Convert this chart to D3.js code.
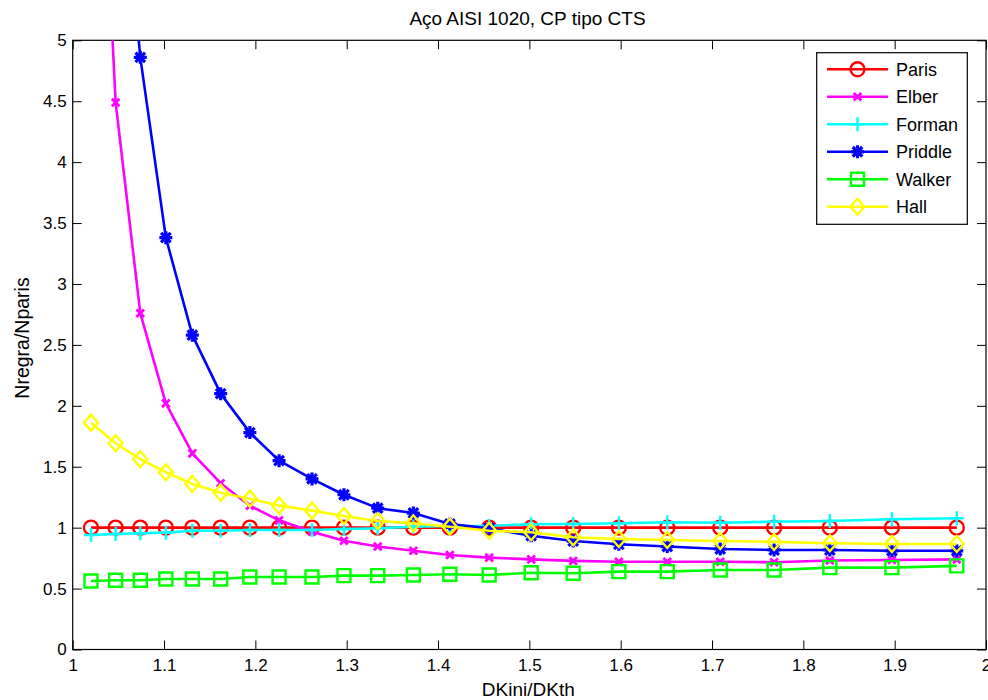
<!DOCTYPE html>
<html>
<head>
<meta charset="utf-8">
<script src="https://cdn.jsdelivr.net/npm/d3@7"></script>
<style>
  html, body { margin: 0; padding: 0; background: #fff; }
  svg { display: block; font-family: "Liberation Sans", Arial, sans-serif; }
</style>
</head>
<body>
<svg id="chart" width="988" height="700"></svg>
<script>
// Ratio of initial to threshold stress intensity range (x values shared by every rule)
const dkRatio = [1.020, 1.047, 1.074, 1.102, 1.131, 1.162, 1.194, 1.226, 1.262, 1.297, 1.334,
                 1.373, 1.413, 1.456, 1.502, 1.548, 1.598, 1.651, 1.709, 1.768, 1.829, 1.897, 1.968];

// Life predicted by each rule, normalised by the Paris prediction
const paris   = [1.00, 1.00, 1.00, 1.00, 1.00, 1.00, 1.00, 1.00, 1.00, 1.00, 1.00,
                 1.00, 1.00, 1.00, 1.00, 1.00, 1.00, 1.00, 1.00, 1.00, 1.00, 1.00, 1.00];
const elber   = [8.60, 4.49, 2.76, 2.02, 1.61, 1.365, 1.18, 1.06, 0.967, 0.893, 0.845,
                 0.81, 0.776, 0.754, 0.74, 0.727, 0.72, 0.72, 0.72, 0.716, 0.73, 0.735, 0.74];
const forman  = [0.94, 0.948, 0.954, 0.959, 0.975, 0.975, 0.981, 0.981, 0.981, 0.989, 0.995,
                 1.008, 1.014, 1.016, 1.028, 1.03, 1.036, 1.044, 1.04, 1.049, 1.055, 1.069, 1.077];
const priddle = [11.5, 7.10, 4.86, 3.38, 2.58, 2.10, 1.78, 1.55, 1.40, 1.27, 1.16,
                 1.12, 1.03, 0.995, 0.934, 0.89, 0.864, 0.845, 0.825, 0.817, 0.817, 0.81, 0.81];
const walker  = [0.562, 0.568, 0.568, 0.579, 0.579, 0.579, 0.595, 0.595, 0.595, 0.606, 0.606,
                 0.612, 0.617, 0.612, 0.63, 0.626, 0.639, 0.639, 0.653, 0.653, 0.672, 0.672, 0.686];
const hall    = [1.862, 1.693, 1.562, 1.455, 1.359, 1.287, 1.238, 1.181, 1.14, 1.096, 1.055,
                 1.036, 1.008, 0.975, 0.962, 0.921, 0.907, 0.899, 0.891, 0.883, 0.872, 0.866, 0.866];

const seriesNames  = ["Paris", "Elber", "Forman", "Priddle", "Walker", "Hall"];
const seriesValues = [paris, elber, forman, priddle, walker, hall];
const seriesColors = ["#ff0000", "#ff00ff", "#00ffff", "#0000ff", "#00ff00", "#ffff00"];
const seriesMarkers = ["circle", "x", "plus", "star", "square", "diamond"];

const xTicks = [1, 1.1, 1.2, 1.3, 1.4, 1.5, 1.6, 1.7, 1.8, 1.9, 2];
const yTicks = [0, 0.5, 1, 1.5, 2, 2.5, 3, 3.5, 4, 4.5, 5];

const titleText = "Aço AISI 1020, CP tipo CTS";
const xLabel = "DKini/DKth";
const yLabel = "Nregra/Nparis";

// Plot frame
const frameLeft = 72.7, frameRight = 986, frameTop = 40.3, frameBottom = 649.5;

const svg = d3.select("#chart");
svg.append("rect").attr("width", 988).attr("height", 700).attr("fill", "#fff");

const x = d3.scaleLinear().domain([1, 2]).range([frameLeft, frameRight]);
const y = d3.scaleLinear().domain([0, 5]).range([frameBottom, frameTop]);

const fmt = d3.format("~g");
const tickLen = 9;

function styleAxis(g) {
  g.select(".domain").remove();
  g.selectAll(".tick line").attr("stroke", "#000").attr("stroke-width", 1);
  g.selectAll("text").attr("font-size", 17).attr("fill", "#000")
    .attr("font-family", "'Liberation Sans', Arial, sans-serif");
}

svg.append("g").attr("transform", `translate(0,${frameBottom})`)
  .call(d3.axisBottom(x).tickValues(xTicks).tickFormat(fmt).tickSizeInner(-tickLen).tickSizeOuter(0).tickPadding(9))
  .call(styleAxis);
svg.append("g").attr("transform", `translate(0,${frameTop})`)
  .call(d3.axisTop(x).tickValues(xTicks).tickFormat("").tickSizeInner(-tickLen).tickSizeOuter(0))
  .call(styleAxis);
svg.append("g").attr("transform", `translate(${frameLeft},0)`)
  .call(d3.axisLeft(y).tickValues(yTicks).tickFormat(fmt).tickSizeInner(-tickLen).tickSizeOuter(0).tickPadding(6))
  .call(styleAxis);
svg.append("g").attr("transform", `translate(${frameRight},0)`)
  .call(d3.axisRight(y).tickValues(yTicks).tickFormat("").tickSizeInner(-tickLen).tickSizeOuter(0))
  .call(styleAxis);

// Box around the axes
svg.append("rect")
  .attr("x", frameLeft).attr("y", frameTop)
  .attr("width", frameRight - frameLeft).attr("height", frameBottom - frameTop)
  .attr("fill", "none").attr("stroke", "#000").attr("stroke-width", 1.2);

svg.append("clipPath").attr("id", "plot-clip")
  .append("rect").attr("x", frameLeft).attr("y", frameTop)
  .attr("width", frameRight - frameLeft).attr("height", frameBottom - frameTop);

// Marker outlines, centred on the origin
function markerPath(kind) {
  switch (kind) {
    case "circle":  return d3.symbol(d3.symbolCircle, Math.PI * 7 * 7)();
    case "x":       return "M-3.8,-3.8L3.8,3.8M-3.8,3.8L3.8,-3.8";
    case "plus":    return "M-7,0L7,0M0,-7L0,7";
    case "star":    return "M-6.5,0L6.5,0M0,-6.5L0,6.5M-4.8,-4.8L4.8,4.8M-4.8,4.8L4.8,-4.8";
    case "square":  return "M-6.5,-6.5H6.5V6.5H-6.5Z";
    case "diamond": return "M0,-8L7,0L0,8L-7,0Z";
  }
}
const markerWidth = { circle: 2.4, x: 2.8, plus: 2.4, star: 3.2, square: 2.4, diamond: 2.4 };

const line = d3.line().x(d => x(d[0])).y(d => y(d[1]));
const plot = svg.append("g").attr("clip-path", "url(#plot-clip)");

seriesNames.forEach((name, i) => {
  const pts = dkRatio.map((dk, j) => [dk, seriesValues[i][j]]);
  const g = plot.append("g").attr("class", "series");
  g.append("path").datum(pts).attr("d", line)
    .attr("fill", "none").attr("stroke", seriesColors[i])
    .attr("stroke-width", 2.6).attr("stroke-linejoin", "round");
  g.selectAll("path.marker").data(pts).join("path").attr("class", "marker")
    .attr("d", markerPath(seriesMarkers[i]))
    .attr("transform", d => `translate(${x(d[0])},${y(d[1])})`)
    .attr("fill", "none").attr("stroke", seriesColors[i])
    .attr("stroke-width", markerWidth[seriesMarkers[i]]);
});

// Legend
const legend = svg.append("g");
legend.append("rect").attr("x", 816.7).attr("y", 52.7).attr("width", 150.6).attr("height", 171.6)
  .attr("fill", "#fff").attr("stroke", "#000").attr("stroke-width", 1.2);
seriesNames.forEach((name, i) => {
  const ly = 69.3 + i * 27.5;
  legend.append("line").attr("x1", 827).attr("x2", 888).attr("y1", ly).attr("y2", ly)
    .attr("stroke", seriesColors[i]).attr("stroke-width", 2.6);
  legend.append("path").attr("d", markerPath(seriesMarkers[i]))
    .attr("transform", `translate(857.5,${ly})`)
    .attr("fill", "none").attr("stroke", seriesColors[i])
    .attr("stroke-width", markerWidth[seriesMarkers[i]]);
  legend.append("text").attr("x", 896).attr("y", ly + 6.5)
    .attr("font-size", 18).attr("fill", "#000").text(name);
});

// Title and axis labels
svg.append("text").attr("x", 527.5).attr("y", 25).attr("text-anchor", "middle")
  .attr("font-size", 19).attr("fill", "#000").text(titleText);
svg.append("text").attr("x", 528.3).attr("y", 695.7).attr("text-anchor", "middle")
  .attr("font-size", 19).attr("fill", "#000").text(xLabel);
svg.append("text").attr("transform", "translate(28.5,338) rotate(-90)").attr("text-anchor", "middle")
  .attr("font-size", 19.5).attr("fill", "#000").text(yLabel);
</script>
</body>
</html>
